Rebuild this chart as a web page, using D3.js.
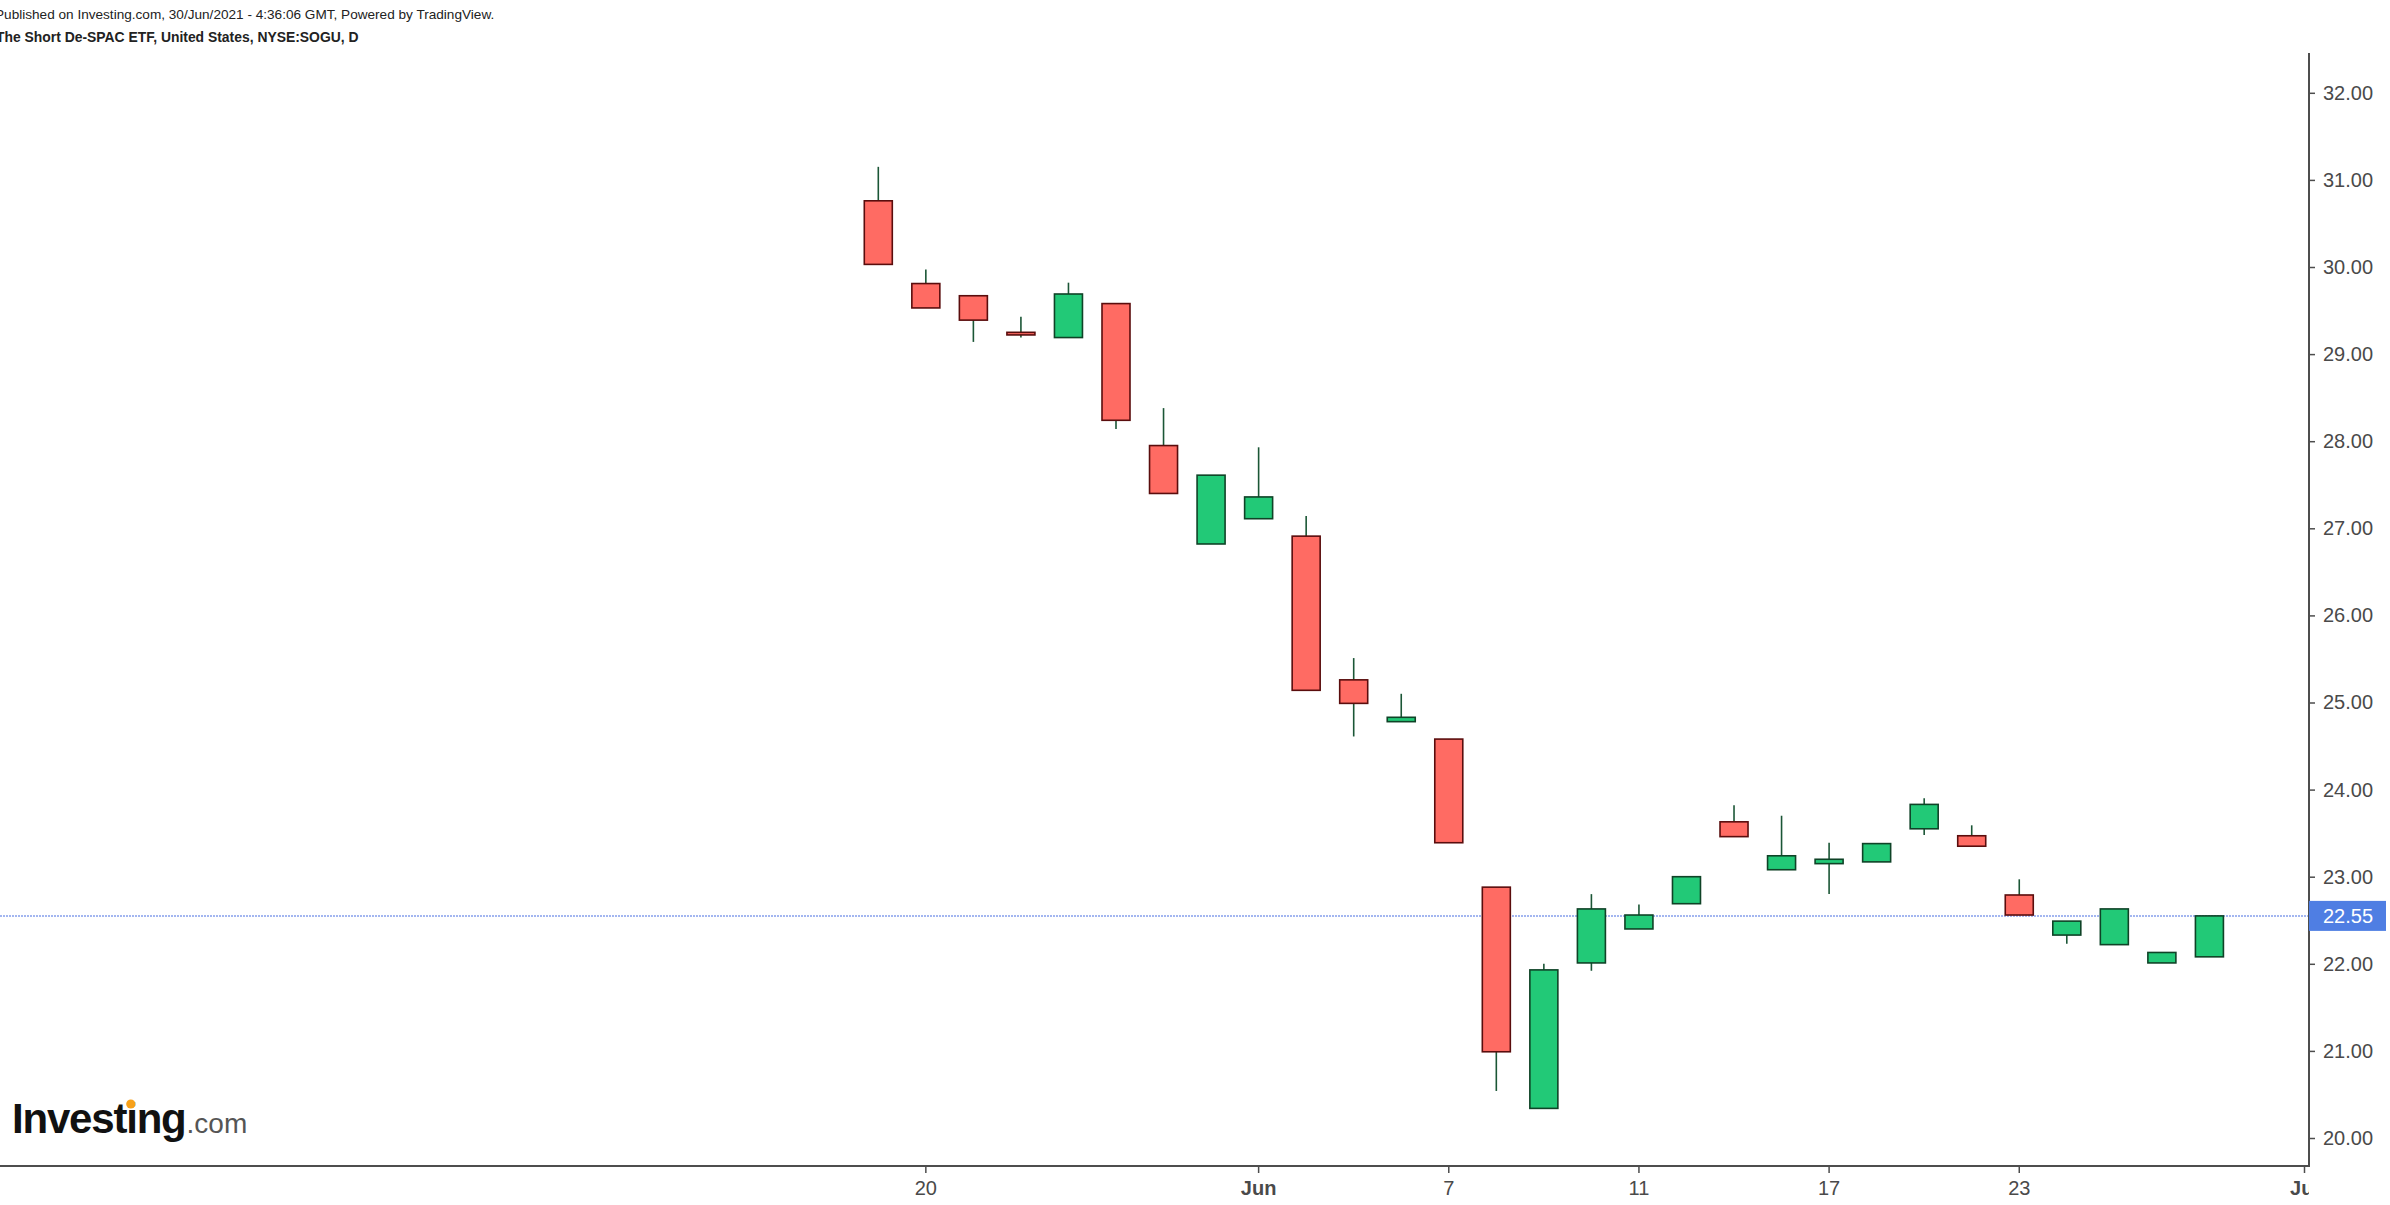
<!DOCTYPE html>
<html>
<head>
<meta charset="utf-8">
<script src="https://cdn.jsdelivr.net/npm/d3@7"></script>
<style>
  html, body { margin: 0; padding: 0; background: #ffffff; }
  svg { display: block; }
  text { font-family: "Liberation Sans", Arial, sans-serif; }
</style>
</head>
<body>
<svg id="chart" width="2390" height="1205"></svg>
<script>
// ---- data ----
const dates = ["May 19","May 20","May 21","May 24","May 25","May 26","May 27","May 28",
  "Jun 1","Jun 2","Jun 3","Jun 4","Jun 7","Jun 8","Jun 9","Jun 10","Jun 11",
  "Jun 14","Jun 15","Jun 16","Jun 17","Jun 18","Jun 21","Jun 22","Jun 23",
  "Jun 24","Jun 25","Jun 28","Jun 29"];
const futureDates = ["Jun 30","Jul 1"];
const openValues  = [30.76,29.81,29.67,29.25,29.19,29.58,27.95,26.82,27.11,26.91,25.26,24.78,24.58,22.88,20.34,22.01,22.40,22.69,23.63,23.08,23.15,23.17,23.55,23.47,22.79,22.33,22.22,22.01,22.08];
const highValues  = [31.15,29.97,29.67,29.43,29.82,29.58,28.38,27.61,27.93,27.14,25.51,25.10,24.58,22.88,22.00,22.80,22.68,23.00,23.82,23.70,23.39,23.38,23.90,23.59,22.97,22.49,22.63,22.13,22.55];
const lowValues   = [30.03,29.53,29.14,29.19,29.19,28.14,27.40,26.82,27.11,25.14,24.61,24.78,23.39,20.54,20.34,21.92,22.40,22.69,23.46,23.08,22.80,23.17,23.48,23.35,22.56,22.23,22.22,22.01,22.08];
const closeValues = [30.03,29.53,29.39,29.22,29.69,28.24,27.40,27.61,27.36,25.14,24.99,24.83,23.39,20.99,21.93,22.63,22.56,23.00,23.46,23.24,23.20,23.38,23.83,23.35,22.56,22.49,22.63,22.13,22.55];
const xTickDates  = ["May 20","Jun 1","Jun 7","Jun 11","Jun 17","Jun 23","Jul 1"];
const xTickLabels = ["20","Jun","7","11","17","23","Jul"];
const xBoldLabels = ["Jun","Jul"];
const priceTicks  = [20,21,22,23,24,25,26,27,28,29,30,31,32];
const lastPrice   = 22.55;
const headerLine1 = "Published on Investing.com, 30/Jun/2021 - 4:36:06 GMT, Powered by TradingView.";
const headerLine2 = "The Short De-SPAC ETF, United States, NYSE:SOGU, D";

// ---- layout ----
const W = 2390, H = 1205;
const plotRight = 2309, plotBottom = 1166, plotTop = 53;
const svg = d3.select("#chart");

const candles = dates.map((d, i) => ({
  date: d, open: openValues[i], high: highValues[i], low: lowValues[i], close: closeValues[i]
}));

const x = d3.scalePoint().domain(dates.concat(futureDates)).range([878.3, 2304.5]);
const y = d3.scaleLinear().domain([20, 32]).range([1138, 92.8]);
const bodyW = 28;

const colors = {
  upFill: "#22c977", upStroke: "#0f4327",
  downFill: "#ff6b63", downStroke: "#5a0d0d",
  wick: "#1b5636", axis: "#4d4d4d", text: "#4a4a4a",
  priceLine: "#a3b6f0", priceBox: "#4f7ee3"
};

svg.append("rect").attr("width", W).attr("height", H).attr("fill", "#fff");

svg.append("defs").append("clipPath").attr("id", "plotClip")
  .append("rect").attr("x", 0).attr("y", 0).attr("width", plotRight).attr("height", H);

// header
svg.append("text").attr("x", -5).attr("y", 19)
  .attr("font-size", 13.6).attr("fill", "#222").text(headerLine1);
svg.append("text").attr("x", -4).attr("y", 41.5)
  .attr("font-size", 13.9).attr("font-weight", "bold").attr("fill", "#222").text(headerLine2);

const plot = svg.append("g").attr("clip-path", "url(#plotClip)");

// last price dotted line
plot.append("line")
  .attr("x1", 0).attr("x2", plotRight)
  .attr("y1", y(lastPrice)).attr("y2", y(lastPrice))
  .attr("stroke", colors.priceLine).attr("stroke-width", 2)
  .attr("stroke-dasharray", "2,1");

// candles
const cg = plot.append("g");
cg.selectAll("line.wick").data(candles).enter().append("line")
  .attr("class", "wick")
  .attr("x1", d => x(d.date)).attr("x2", d => x(d.date))
  .attr("y1", d => y(d.high)).attr("y2", d => y(d.low))
  .attr("stroke", colors.wick).attr("stroke-width", 1.6);

cg.selectAll("rect.body").data(candles).enter().append("rect")
  .attr("class", "body")
  .attr("x", d => x(d.date) - bodyW / 2)
  .attr("width", bodyW)
  .attr("y", d => y(Math.max(d.open, d.close)))
  .attr("height", d => Math.max(2, Math.abs(y(d.open) - y(d.close))))
  .attr("fill", d => d.close >= d.open ? colors.upFill : colors.downFill)
  .attr("stroke", d => d.close >= d.open ? colors.upStroke : colors.downStroke)
  .attr("stroke-width", 1.6);

// x axis
const xAxisG = svg.append("g").attr("clip-path", "url(#plotClip)");
xAxisG.append("line").attr("x1", 0).attr("x2", plotRight)
  .attr("y1", plotBottom).attr("y2", plotBottom)
  .attr("stroke", colors.axis).attr("stroke-width", 2);
const xt = xAxisG.selectAll("g.xt").data(xTickDates).enter().append("g")
  .attr("transform", d => `translate(${x(d)},${plotBottom})`);
xt.append("line").attr("y1", 0).attr("y2", 7).attr("stroke", colors.axis).attr("stroke-width", 1.5);
xt.append("text").attr("y", 29).attr("text-anchor", "middle")
  .attr("font-size", 20).attr("fill", colors.text)
  .attr("font-weight", (d, i) => xBoldLabels.includes(xTickLabels[i]) ? "bold" : "normal")
  .text((d, i) => xTickLabels[i]);

// y axis (right)
const yAxis = d3.axisRight(y).tickValues(priceTicks).tickFormat(d3.format(".2f"))
  .tickSize(6).tickPadding(8);
const yg = svg.append("g").attr("transform", `translate(${plotRight},0)`).call(yAxis);
yg.select(".domain").remove();
yg.selectAll(".tick line").attr("stroke", colors.axis).attr("stroke-width", 1.5);
yg.selectAll(".tick text").attr("font-size", 20).attr("fill", colors.text)
  .attr("font-family", "'Liberation Sans', Arial, sans-serif");
svg.append("line").attr("x1", plotRight).attr("x2", plotRight)
  .attr("y1", plotTop).attr("y2", plotBottom + 1)
  .attr("stroke", colors.axis).attr("stroke-width", 2);

// last price label
const lp = svg.append("g").attr("transform", `translate(${plotRight},${y(lastPrice)})`);
lp.append("rect").attr("x", 0).attr("y", -15).attr("width", 77).attr("height", 30)
  .attr("fill", colors.priceBox);
lp.append("text").attr("x", 14).attr("y", 7).attr("font-size", 20).attr("fill", "#fff")
  .text(d3.format(".2f")(lastPrice));

// Investing.com logo
const logoSize = 42;
const logo = svg.append("g").attr("transform", "translate(12,1133)");
const logoMain = logo.append("text").attr("x", 0).attr("y", 0)
  .attr("font-size", logoSize).attr("font-weight", "bold").attr("fill", "#111")
  .attr("letter-spacing", -1.2).text("Investing");
const lw = logoMain.node().getComputedTextLength();
logo.append("text").attr("x", lw + 1).attr("y", 0)
  .attr("font-size", 28).attr("fill", "#555").text(".com");
let dotX = 124;
try {
  const ext = logoMain.node().getExtentOfChar(6);
  dotX = ext.x + ext.width / 2 - 0.6;
} catch (e) {}
logo.append("circle").attr("cx", dotX).attr("cy", -logoSize * 0.69).attr("r", 4.6).attr("fill", "#f7a11a");
</script>
</body>
</html>
